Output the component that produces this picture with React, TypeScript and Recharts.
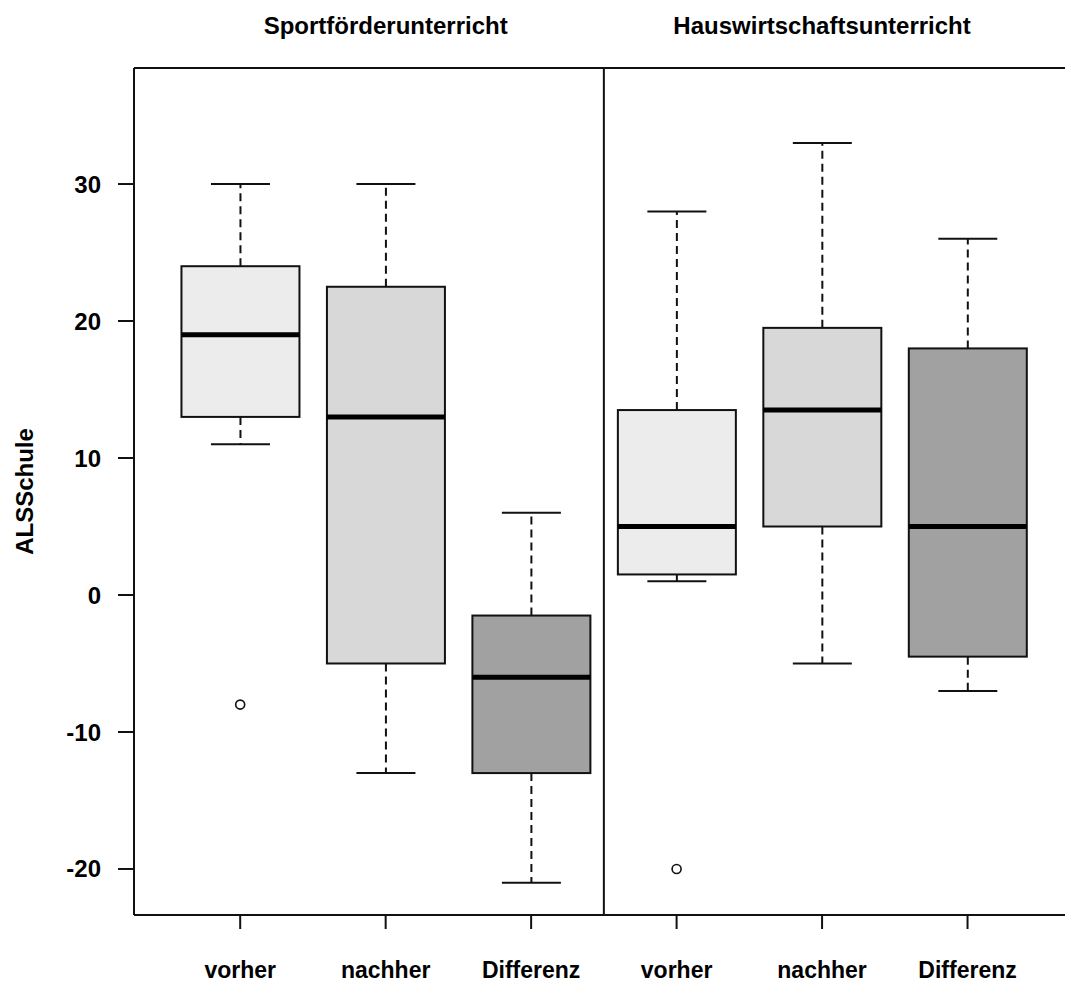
import { Bar, ComposedChart, ReferenceLine, Scatter, XAxis, YAxis } from "recharts"

// Box plot of ALS Schule scores, before / after / difference, for two courses
const GROUPS = ["Sportförderunterricht", "Hauswirtschaftsunterricht"]
const GROUP_POSITIONS = [2, 5]
const CATEGORIES = ["vorher", "nachher", "Differenz", "vorher", "nachher", "Differenz"]
const POSITIONS = [1, 2, 3, 4, 5, 6]
const WHISKER_LOW = [11, -13, -21, 1, -5, -7]
const Q1 = [13, -5, -13, 1.5, 5, -4.5]
const MEDIAN = [19, 13, -6, 5, 13.5, 5]
const Q3 = [24, 22.5, -1.5, 13.5, 19.5, 18]
const WHISKER_HIGH = [30, 30, 6, 28, 33, 26]
const OUTLIER_X = [1, 4]
const OUTLIER_Y = [-8, -20]
const Y_TICKS = [-20, -10, 0, 10, 20, 30]
const Y_DOMAIN: [number, number] = [-23.36, 38.47]
const X_DOMAIN: [number, number] = [0.27, 6.67]
const PANEL_SPLIT = 3.5

const FILLS = ["#ececec", "#d8d8d8", "#a1a1a1", "#ececec", "#d8d8d8", "#a1a1a1"]
const INK = "#111"
const FONT = "'Liberation Sans', Arial, sans-serif"

const boxes = POSITIONS.map((x, i) => ({
  x,
  range: [WHISKER_LOW[i], WHISKER_HIGH[i]],
  lo: WHISKER_LOW[i],
  q1: Q1[i],
  med: MEDIAN[i],
  q3: Q3[i],
  hi: WHISKER_HIGH[i],
  fill: FILLS[i],
}))

const outliers = OUTLIER_X.map((x, i) => ({ x, y: OUTLIER_Y[i] }))

function BoxShape(props: any) {
  const { x, y, width, height } = props
  const d = props.payload ?? props
  const top = Math.min(y, y + height)
  const bottom = Math.max(y, y + height)
  // the bar spans lo..hi, so the quartiles sit proportionally inside it
  const toY = (v: number) => bottom - ((v - d.lo) / (d.hi - d.lo)) * (bottom - top)
  const cx = x + width / 2
  const cap = width / 4
  const yQ1 = toY(d.q1)
  const yQ3 = toY(d.q3)
  const yMed = toY(d.med)
  return (
    <g>
      <line x1={cx} x2={cx} y1={yQ3} y2={top} stroke={INK} strokeWidth={2} strokeDasharray="8 5" />
      <line x1={cx} x2={cx} y1={yQ1} y2={bottom} stroke={INK} strokeWidth={2} strokeDasharray="8 5" />
      <line x1={cx - cap} x2={cx + cap} y1={top} y2={top} stroke={INK} strokeWidth={2} />
      <line x1={cx - cap} x2={cx + cap} y1={bottom} y2={bottom} stroke={INK} strokeWidth={2} />
      <rect x={x} y={yQ3} width={width} height={yQ1 - yQ3} fill={d.fill} stroke={INK} strokeWidth={2} />
      <line x1={x} x2={x + width} y1={yMed} y2={yMed} stroke="#000" strokeWidth={5} />
    </g>
  )
}

function OutlierShape(props: any) {
  return <circle cx={props.cx} cy={props.cy} r={4.5} fill="#fff" stroke={INK} strokeWidth={1.6} />
}

// panel titles sit on the top axis, centred over the middle box of each panel
function TitleTick(props: any) {
  const { x, y, payload } = props
  const label = GROUPS[GROUP_POSITIONS.indexOf(payload.value)] ?? ""
  return (
    <text x={x} y={y} textAnchor="middle" fontFamily={FONT} fontSize={24} fontWeight="bold" fill="#000">
      {label}
    </text>
  )
}

function YLabel(props: any) {
  const vb = props.viewBox ?? { y: 68, height: 847 }
  const cy = vb.y + vb.height / 2
  const cx = 24
  return (
    <text
      x={cx}
      y={cy}
      transform={`rotate(-90, ${cx}, ${cy})`}
      textAnchor="middle"
      dominantBaseline="central"
      fontFamily={FONT}
      fontSize={24}
      fontWeight="bold"
      fill="#000"
    >
      ALSSchule
    </text>
  )
}

export default function App() {
  const tickFont = { fontSize: 24, fontWeight: "bold", fill: "#000", fontFamily: FONT }
  return (
    <div style={{ width: 1065, height: 985, background: "#fff" }}>
      <style>{"body{margin:0;background:#fff}"}</style>
      <ComposedChart width={1065} height={985} data={boxes} margin={{ top: 0, right: 0, bottom: 0, left: 0 }}>
        <XAxis
          xAxisId="top"
          dataKey="x"
          orientation="top"
          type="number"
          domain={X_DOMAIN}
          ticks={GROUP_POSITIONS}
          height={68}
          tickLine={false}
          tickSize={0}
          tickMargin={34}
          axisLine={{ stroke: INK, strokeWidth: 2 }}
          tick={<TitleTick />}
          interval={0}
          allowDataOverflow
        />
        <XAxis
          dataKey="x"
          type="number"
          domain={X_DOMAIN}
          ticks={POSITIONS}
          tickFormatter={(v: number) => CATEGORIES[v - 1] ?? ""}
          height={70}
          tickSize={14}
          tickMargin={33}
          axisLine={{ stroke: INK, strokeWidth: 2 }}
          tickLine={{ stroke: INK, strokeWidth: 2 }}
          tick={{ ...tickFont, fontSize: 23 }}
          interval={0}
          allowDataOverflow
        />
        <YAxis
          type="number"
          domain={Y_DOMAIN}
          ticks={Y_TICKS}
          width={134}
          tickSize={16}
          tickMargin={17}
          axisLine={{ stroke: INK, strokeWidth: 2 }}
          tickLine={{ stroke: INK, strokeWidth: 2 }}
          tick={tickFont}
          interval={0}
          allowDataOverflow
          label={<YLabel />}
        />
        <ReferenceLine x={PANEL_SPLIT} stroke={INK} strokeWidth={2} />
        <Bar dataKey="range" barSize={118} shape={<BoxShape />} isAnimationActive={false} />
        <Scatter data={outliers} dataKey="y" shape={<OutlierShape />} isAnimationActive={false} />
      </ComposedChart>
    </div>
  )
}
